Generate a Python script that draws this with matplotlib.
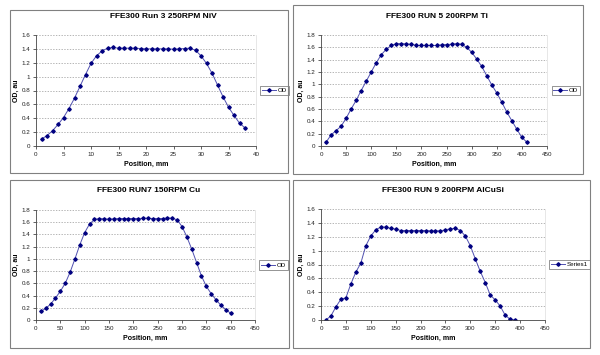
import numpy as np
import matplotlib.pyplot as plt
from matplotlib.patches import Rectangle

plt.rcParams['font.family'] = ['Liberation Sans', 'DejaVu Sans']

# Run 3 NiV
pos1 = list(range(1, 39))
od1 = [0.10, 0.15, 0.22, 0.31, 0.41, 0.54, 0.69, 0.86, 1.03, 1.19,
       1.30, 1.37, 1.41, 1.42, 1.41, 1.41, 1.41, 1.41, 1.405, 1.40,
       1.40, 1.40, 1.40, 1.40, 1.395, 1.40, 1.405, 1.41, 1.38, 1.30,
       1.19, 1.05, 0.88, 0.71, 0.56, 0.44, 0.33, 0.26]

# Run 5 Ti
pos2 = list(range(10, 420, 10))
od2 = [0.06, 0.18, 0.25, 0.32, 0.45, 0.60, 0.74, 0.90, 1.05, 1.20,
       1.35, 1.48, 1.57, 1.63, 1.66, 1.66, 1.655, 1.65, 1.63, 1.63,
       1.63, 1.63, 1.63, 1.64, 1.645, 1.65, 1.66, 1.65, 1.60, 1.52,
       1.41, 1.29, 1.14, 0.99, 0.86, 0.71, 0.55, 0.41, 0.27, 0.14, 0.06]

# Run 7 Cu
pos3 = list(range(10, 410, 10))
od3 = [0.14, 0.19, 0.26, 0.36, 0.47, 0.60, 0.78, 1.00, 1.23, 1.43,
       1.57, 1.645, 1.66, 1.655, 1.65, 1.655, 1.66, 1.66, 1.66, 1.66,
       1.66, 1.665, 1.665, 1.66, 1.66, 1.66, 1.67, 1.665, 1.64, 1.53,
       1.36, 1.16, 0.94, 0.72, 0.55, 0.43, 0.33, 0.24, 0.17, 0.11]

# Run 9 AlCuSi
pos4 = list(range(10, 400, 10))
od4 = [0.00, 0.06, 0.19, 0.30, 0.32, 0.52, 0.69, 0.82, 1.07, 1.21,
       1.30, 1.34, 1.34, 1.32, 1.31, 1.29, 1.29, 1.29, 1.29, 1.29,
       1.29, 1.285, 1.285, 1.285, 1.30, 1.315, 1.32, 1.29, 1.21, 1.07,
       0.88, 0.70, 0.54, 0.36, 0.29, 0.20, 0.07, 0.01, 0.00]

titles = ["FFE300 Run 3 250RPM NiV", "FFE300 RUN 5 200RPM Ti",
          "FFE300 RUN7 150RPM Cu", "FFE300 RUN 9 200RPM AlCuSi"]
series_names = ["OD", "OD", "OD", "Series1"]

W, H = 600, 355
fig = plt.figure(figsize=(6, 3.55), dpi=100)

def fx(px):
    return px / W

def fy(py):
    return 1 - py / H

# panel frames (left, top, right, bottom) in pixels
frames = [(10, 10, 288, 173), (293, 5, 583, 174), (10, 180, 289, 348), (293, 180, 590, 348)]
for l, t, r, b in frames:
    fig.patches.append(Rectangle((fx(l), fy(b)), fx(r - l), (b - t) / H,
                                 transform=fig.transFigure, fill=False,
                                 edgecolor='#808080', linewidth=0.8))

# plot area rectangles (left, top, right, bottom)
areas = [(36, 35, 256, 146), (321, 35, 547, 146), (36, 210, 255, 320), (321, 209, 545, 320)]
xlims = [(0, 40, 5), (0, 450, 50), (0, 450, 50), (0, 450, 50)]
ylims = [1.6, 1.8, 1.8, 1.6]
title_pos = [(163, 16), (437, 16), (149, 191), (443, 191)]
data = [(pos1, od1), (pos2, od2), (pos3, od3), (pos4, od4)]

for i in range(4):
    l, t, r, b = areas[i]
    ax = fig.add_axes([fx(l), fy(b), fx(r - l), (b - t) / H])
    x, y = data[i]
    ax.plot(x, y, color='#5050b0', linewidth=0.7, marker='D', markersize=1.8,
            markerfacecolor='#000080', markeredgecolor='#000080', label=series_names[i])
    x0, x1, xs = xlims[i]
    ax.set_xlim(x0, x1)
    ax.set_xticks(np.arange(x0, x1 + xs / 2, xs))
    ax.set_ylim(0, ylims[i])
    ax.set_yticks(np.arange(0, ylims[i] + 0.01, 0.2))
    ax.set_yticklabels([f"{v:g}" for v in np.arange(0, ylims[i] + 0.01, 0.2).round(1)])
    ax.yaxis.grid(True, linestyle=(0, (2, 2)), color='#999999', linewidth=0.5)
    ax.set_axisbelow(True)
    ax.tick_params(labelsize=4.5, length=2, width=0.5, pad=2, colors='#222222')
    ax.spines['top'].set_visible(False)
    ax.spines['right'].set_color('#dddddd')
    ax.spines['right'].set_linewidth(0.5)
    for s in ['left', 'bottom']:
        ax.spines[s].set_color('#444444')
        ax.spines[s].set_linewidth(0.6)
    ax.set_xlabel("Position, mm", fontsize=5, fontweight='bold', labelpad=3)
    ax.set_ylabel("OD, au", fontsize=5, fontweight='bold', labelpad=1)
    leg = ax.legend(loc='center left', bbox_to_anchor=(1.02, 0.5), fontsize=4.5,
                    frameon=True, fancybox=False, handlelength=2.2, borderpad=0.3,
                    handletextpad=0.3, borderaxespad=0)
    leg.get_frame().set_edgecolor('#444444')
    leg.get_frame().set_linewidth(0.5)
    tx, ty = title_pos[i]
    fig.text(fx(tx), fy(ty), titles[i], ha='center', va='center',
             fontsize=6, fontweight='bold')

fig.savefig("out.png", dpi=100)
